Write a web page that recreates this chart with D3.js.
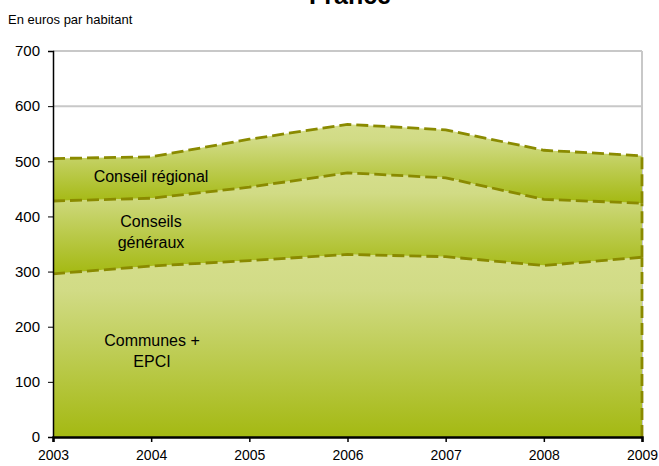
<!DOCTYPE html>
<html><head><meta charset="utf-8">
<script src="https://cdn.jsdelivr.net/npm/d3@7"></script>
<style>body{margin:0;background:#fff;}svg{display:block;font-family:"Liberation Sans",Arial,sans-serif;}</style>
</head><body>
<svg id="c" width="659" height="466"></svg>
<script>
const years = [2003, 2004, 2005, 2006, 2007, 2008, 2009];
const communes = [296, 310, 320, 331, 327, 311, 326];
const conseilsGeneraux = [132, 123, 133, 148, 143, 120, 98];
const conseilRegional = [77, 75, 87, 88, 87, 89, 86];
const yTicks = [0, 100, 200, 300, 400, 500, 600, 700];
const seriesNames = ["communes", "cg", "cr"];

const FONT = "'Liberation Sans', Arial, sans-serif";
const svg = d3.select("#c");
const m = {l: 53, r: 17, t: 51, b: 29};
const W = 659, H = 466;
const x = d3.scaleLinear().domain([2003, 2009]).range([m.l, W - m.r]);
const y = d3.scaleLinear().domain([0, 700]).range([H - m.b, m.t]);

const table = years.map((yr, i) => ({year: yr, communes: communes[i], cg: conseilsGeneraux[i], cr: conseilRegional[i]}));
const stack = d3.stack().keys(seriesNames)(table);

const defs = svg.append("defs");
seriesNames.forEach((k) => {
  const g = defs.append("linearGradient").attr("id", "g_" + k).attr("x1", 0).attr("y1", 0).attr("x2", 0).attr("y2", 1);
  g.append("stop").attr("offset", "0%").attr("stop-color", "#d5de8c");
  g.append("stop").attr("offset", "20%").attr("stop-color", "#d1db85");
  g.append("stop").attr("offset", "100%").attr("stop-color", "#a4b912");
});

// grid
svg.append("g").selectAll("line").data(yTicks.filter(d => d > 0)).join("line")
  .attr("x1", m.l).attr("x2", W - m.r).attr("y1", d => y(d)).attr("y2", d => y(d))
  .attr("stroke", "#c8c8c8").attr("stroke-width", 2);
svg.append("line").attr("x1", W - m.r).attr("x2", W - m.r).attr("y1", y(700)).attr("y2", y(0))
  .attr("stroke", "#c8c8c8").attr("stroke-width", 2);

const area = d3.area().x(d => x(d.data.year)).y0(d => y(d[0])).y1(d => y(d[1]));
svg.append("g").selectAll("path").data(stack).join("path")
  .attr("d", area).attr("fill", d => "url(#g_" + d.key + ")");

// dashed outlines: top lines and right edge
const line = d3.line().x(d => x(d.data.year)).y(d => y(d[1]));
svg.append("g").selectAll("path").data(stack).join("path")
  .attr("d", line).attr("fill", "none").attr("stroke", "#8a8a00").attr("stroke-width", 2.8)
  .attr("stroke-dasharray", "12,5");
svg.append("g").selectAll("line").data(stack).join("line")
  .attr("x1", x(2009)).attr("x2", x(2009))
  .attr("y1", d => y(d[d.length - 1][0])).attr("y2", d => y(d[d.length - 1][1]))
  .attr("stroke", "#8a8a00").attr("stroke-width", 2.8).attr("stroke-dasharray", "12,5");

// axes
const yAxis = svg.append("g").attr("transform", `translate(${m.l},0)`)
  .call(d3.axisLeft(y).tickValues(yTicks).tickSize(5).tickPadding(8));
yAxis.select(".domain").attr("stroke", "#000").attr("stroke-width", 1.5);
yAxis.selectAll(".tick line").attr("stroke", "#000");
yAxis.selectAll("text").attr("font-size", 15).attr("fill", "#000").style("font-family", FONT);

const xAxis = svg.append("g").attr("transform", `translate(0,${y(0)})`)
  .call(d3.axisBottom(x).tickValues(years).tickFormat(d3.format("d")).tickSize(5).tickPadding(8));
xAxis.select(".domain").attr("stroke", "#000").attr("stroke-width", 2.5);
xAxis.selectAll(".tick line").attr("stroke", "#000").attr("stroke-width", 1.5);
xAxis.selectAll("text").attr("font-size", 14).attr("fill", "#000").style("font-family", FONT);

// titles
svg.append("text").attr("x", 350).attr("y", 4).attr("text-anchor", "middle")
  .attr("font-size", 25).attr("font-weight", "bold").style("font-family", FONT).text("France");
svg.append("text").attr("x", 8).attr("y", 24).attr("font-size", 13).style("font-family", FONT).text("En euros par habitant");

// band labels
const labels = [
  {lines: ["Conseil régional"], x: 151, y: 182},
  {lines: ["Conseils", "généraux"], x: 151, y: 227},
  {lines: ["Communes +", "EPCI"], x: 152, y: 346}
];
labels.forEach(l => {
  l.lines.forEach((t, i) => {
    svg.append("text").attr("x", l.x).attr("y", l.y + i * 21).attr("text-anchor", "middle")
      .attr("font-size", 16).attr("fill", "#000").style("font-family", FONT).text(t);
  });
});
</script>
</body></html>
